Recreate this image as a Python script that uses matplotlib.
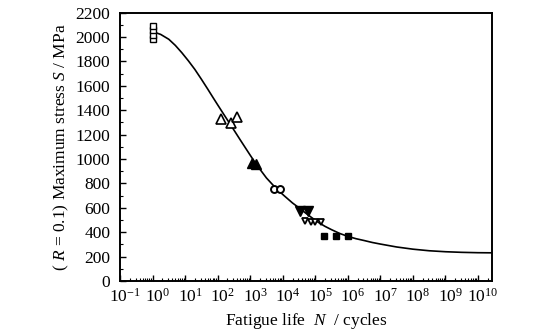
import numpy as np
import matplotlib
matplotlib.use('Agg')
import matplotlib.pyplot as plt
import matplotlib.transforms as mtrans
from matplotlib.ticker import LogLocator, LogFormatterMathtext, MultipleLocator, NullFormatter

plt.rcParams['font.family'] = ['Liberation Serif', 'DejaVu Serif']
plt.rcParams['mathtext.fontset'] = 'custom'
plt.rcParams['mathtext.rm'] = 'Liberation Serif'
plt.rcParams['mathtext.it'] = 'Liberation Serif:italic'

# test data (N in cycles, S in MPa)
sq_open_N = [1, 1, 1, 1]
sq_open_S = [1984, 2020, 2056, 2092]
tri_open_N = [130, 250, 400]
tri_open_S = [1330, 1295, 1345]
tri_fill_N = [1100, 1500]
tri_fill_S = [965, 960]
circ_N = [5500, 8000]
circ_S = [755, 755]
dtri_fill_N = [35000, 60000]
dtri_fill_S = [578, 575]
dtri_open_N = [50000, 72000, 100000, 150000]
dtri_open_S = [490, 480, 485, 480]
sq_fill_N = [190000, 440000, 1000000]
sq_fill_S = [370, 372, 372]

# fitted S-N curve, read at points along log N
curve_logN = [0.0, 0.25, 0.5, 0.7, 0.9, 1.1, 1.3, 1.5, 1.7, 1.85, 2.0, 2.2, 2.4,
              2.7, 3.0, 3.2, 3.5, 3.8, 4.05, 4.3, 4.5, 4.7, 4.9, 5.1, 5.3, 5.5,
              5.75, 6.0, 6.25, 6.5, 6.75, 7.0, 7.5, 8.0, 8.5, 9.0, 9.5, 10.0, 10.43]
curve_S = [2045, 2022, 1982, 1932, 1872, 1806, 1735, 1655, 1572, 1508, 1445, 1362, 1280,
           1155, 1032, 952, 845, 758, 698, 640, 600, 558, 518, 480, 448, 421,
           390, 366, 347, 332, 316, 303, 279, 261, 248, 240, 235, 232, 231]

x_ticks = [10.0 ** k for k in range(-1, 11)]
y_ticks = list(range(0, 2201, 200))


def main():
    fig = plt.figure(figsize=(5.54, 3.36), dpi=100)
    ax = fig.add_axes([0.2166, 0.1637, 0.6714, 0.7985])

    ax.plot(10.0 ** np.array(curve_logN), curve_S, color='black', lw=1.2, zorder=2)

    ax.plot(sq_open_N, sq_open_S, 's', ms=4.2, mfc='white', mec='black', mew=1.0, zorder=3)
    ax.plot(tri_open_N, tri_open_S, '^', ms=6.5, mfc='white', mec='black', mew=1.2, zorder=3)
    ax.plot(tri_fill_N, tri_fill_S, '^', ms=7, color='black', zorder=3)
    ax.plot(circ_N, circ_S, 'o', ms=5, mfc='white', mec='black', mew=1.4, zorder=3)
    ax.plot(dtri_fill_N, dtri_fill_S, 'v', ms=6.5, color='black', zorder=3)
    ax.plot(dtri_open_N, dtri_open_S, 'v', ms=5, mfc='white', mec='black', mew=1.3, zorder=3)
    ax.plot(sq_fill_N, sq_fill_S, 's', ms=5, color='black', zorder=3)

    ax.set_xscale('log')
    ax.set_xlim(0.1, 10 ** 10.43)
    ax.set_ylim(0, 2200)
    ax.set_xticks(x_ticks)
    ax.xaxis.set_major_formatter(LogFormatterMathtext())
    ax.xaxis.set_minor_locator(LogLocator(base=10, subs=np.arange(2, 10), numticks=100))
    ax.xaxis.set_minor_formatter(NullFormatter())
    ax.set_yticks(y_ticks)
    ax.yaxis.set_minor_locator(MultipleLocator(100))

    ax.tick_params(which='both', direction='in', top=False, right=False, labelsize=12.5)
    ax.tick_params(axis='x', which='major', pad=5)
    ax.tick_params(axis='y', which='major', pad=7)
    ax.tick_params(which='major', length=4, width=1.0)
    ax.tick_params(which='minor', length=2, width=0.8)
    for s in ax.spines.values():
        s.set_linewidth(1.4)

    # decade labels sit a little right of their ticks in the original
    shift = mtrans.ScaledTranslation(0.05, 0, fig.dpi_scale_trans)
    for lbl in ax.get_xticklabels():
        lbl.set_transform(lbl.get_transform() + shift)

    ax.set_xlabel('Fatigue life  $N$  / cycles', fontsize=12.5, labelpad=4)
    ax.set_ylabel('( $R$ = 0.1) Maximum stress $S$ / MPa', fontsize=12.5, labelpad=3)

    fig.savefig('out.png', dpi=100)


if __name__ == '__main__':
    main()
